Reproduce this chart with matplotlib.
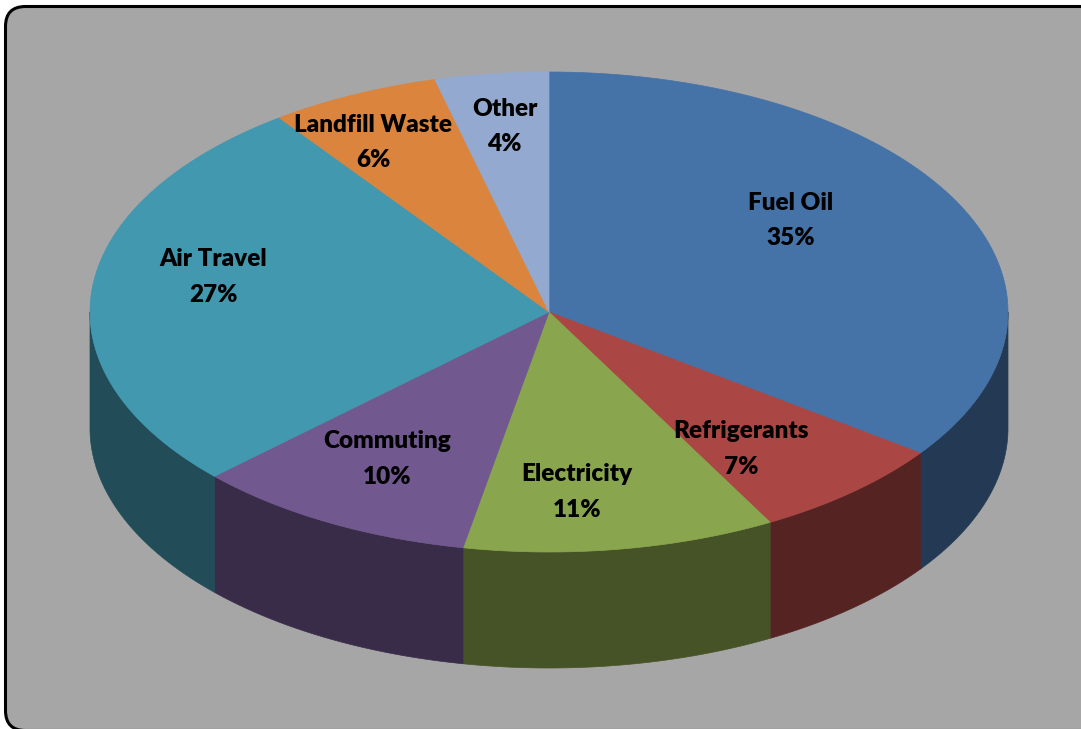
import numpy as np
import matplotlib.pyplot as plt
from matplotlib.patches import Polygon, FancyBboxPatch
from matplotlib.colors import to_rgb

# Emission sources and their share (%)
sources = ["Fuel Oil", "Refrigerants", "Electricity", "Commuting",
           "Air Travel", "Landfill Waste", "Other"]
shares = [35, 7, 11, 10, 27, 6, 4]

top_colors = ["#4572a7", "#aa4643", "#89a54e", "#71588f",
              "#4198af", "#db843d", "#93a9cf"]

# Label anchor as (x, y) fractions of the radius along each slice's mid angle
label_r = [(0.59, 0.84), (0.633, 0.76), (0.39, 0.76), (0.73, 0.70),
           (0.735, 1.55), (0.90, 0.78), (0.77, 0.78)]

W, H = 1081, 729
cx, cy = 549, 312      # centre of the top face (pixels)
a, b = 459, 240        # ellipse half-axes
depth = 116            # thickness of the disc


def ell(theta, dy=0.0):
    # theta in degrees, clockwise from 12 o'clock
    t = np.radians(theta)
    return cx + a*np.sin(t), cy - b*np.cos(t) + dy


fig = plt.figure(figsize=(W/100, H/100), dpi=100)
fig.patch.set_facecolor("white")
ax = fig.add_axes([0, 0, 1, 1])
ax.set_xlim(0, W)
ax.set_ylim(H, 0)
ax.axis("off")

# chart area frame (runs off the right and bottom edges)
frame = FancyBboxPatch((5.5, 6.5), W + 40, 724,
                       boxstyle="round,pad=0,rounding_size=20",
                       facecolor="#a6a6a6", edgecolor="black", lw=2.2,
                       zorder=0)
ax.add_patch(frame)

angles = np.concatenate([[0], np.cumsum(shares)]) / sum(shares) * 360

for i in range(len(shares)):
    t0, t1 = angles[i], angles[i+1]
    col = np.array(to_rgb(top_colors[i]))

    # front wall (only the part facing the viewer, 90..270 deg)
    s0, s1 = max(t0, 90), min(t1, 270)
    if s1 > s0:
        th = np.linspace(s0, s1, 120)
        xt, yt = ell(th)
        xb, yb = ell(th[::-1], depth)
        side = Polygon(np.column_stack([np.r_[xt, xb], np.r_[yt, yb]]),
                       closed=True, facecolor=col*0.5, edgecolor=col*0.5,
                       lw=0.5, zorder=1)
        ax.add_patch(side)

    # top face wedge
    th = np.linspace(t0, t1, 200)
    xt, yt = ell(th)
    top = Polygon(np.column_stack([np.r_[cx, xt], np.r_[cy, yt]]),
                  closed=True, facecolor=col, edgecolor=col, lw=0.5,
                  zorder=2)
    ax.add_patch(top)

    # data label
    mid = np.radians((t0 + t1) / 2)
    fx, fy = label_r[i]
    lx = cx + a*fx*np.sin(mid)
    ly = cy - b*fy*np.cos(mid)
    ax.text(lx, ly, f"{sources[i]}\n{shares[i]}%", ha="center", va="center",
            multialignment="center", fontsize=17.5, fontweight="heavy",
            family=["Lato", "DejaVu Sans"], linespacing=1.75, zorder=3)

fig.savefig("out.png", dpi=100, facecolor=fig.get_facecolor())
